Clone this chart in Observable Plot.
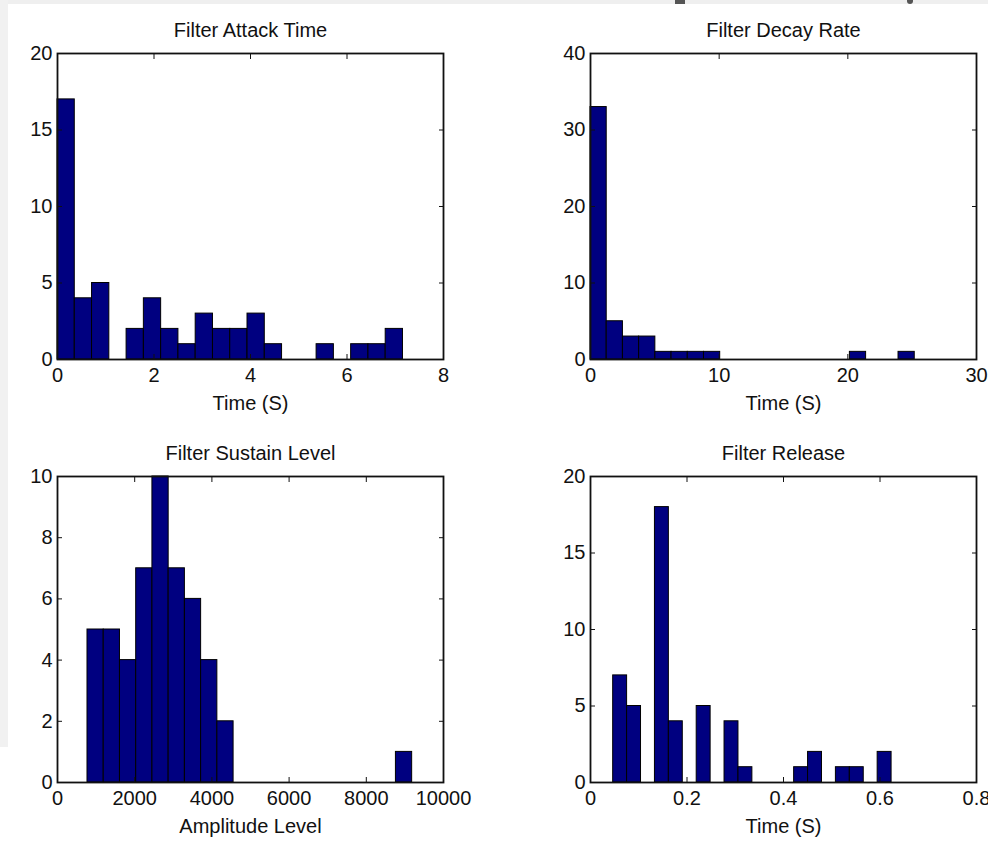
<!DOCTYPE html>
<html>
<head>
<meta charset="utf-8">
<script src="https://cdn.jsdelivr.net/npm/d3@7"></script>
<script src="https://cdn.jsdelivr.net/npm/@observablehq/plot@0.6"></script>
<style>
  body { margin: 0; background: #ffffff; }
  #page { position: relative; width: 988px; height: 846px; overflow: hidden; background: #ffffff; }
  .panel { position: absolute; width: 494px; height: 423px; }
  .strip-top { position: absolute; left: 0; top: 0; width: 988px; height: 4px; background: #efefef; }
  .strip-left { position: absolute; left: 0; top: 0; width: 8px; height: 747px; background: #f1f1f1; }
  .bit { position: absolute; top: 0; height: 4px; background: #555; }
</style>
</head>
<body>
<div id="page">
  <div class="strip-top"></div>
  <div class="strip-left"></div>
  <div class="bit" style="left:675px;width:10px;"></div>
  <div class="bit" style="left:907px;width:6px;border-radius:0 0 3px 3px;"></div>
  <div class="panel" id="p1" style="left:0;top:0;"></div>
  <div class="panel" id="p2" style="left:494px;top:0;"></div>
  <div class="panel" id="p3" style="left:0;top:423px;"></div>
  <div class="panel" id="p4" style="left:494px;top:423px;"></div>
</div>
<script>
// ---- Data (20-bin histograms) ----
const titles = ["Filter Attack Time", "Filter Decay Rate", "Filter Sustain Level", "Filter Release"];
const xLabels = ["Time (S)", "Time (S)", "Amplitude Level", "Time (S)"];

const attackCounts  = [17, 4, 5, 0, 2, 4, 2, 1, 3, 2, 2, 3, 1, 0, 0, 1, 0, 1, 1, 2];
const attackRange   = [0, 7.16];
const decayCounts   = [33, 5, 3, 3, 1, 1, 1, 1, 0, 0, 0, 0, 0, 0, 0, 0, 1, 0, 0, 1];
const decayRange    = [0, 25.2];
const sustainCounts = [5, 5, 4, 7, 10, 7, 6, 4, 2, 0, 0, 0, 0, 0, 0, 0, 0, 0, 0, 1];
const sustainRange  = [777, 9188];
const releaseCounts = [7, 5, 0, 18, 4, 0, 5, 0, 4, 1, 0, 0, 0, 1, 2, 0, 1, 1, 0, 2];
const releaseRange  = [0.047, 0.624];

// tick labels
const attackXTicks  = [0, 2, 4, 6, 8];
const attackYTicks  = [0, 5, 10, 15, 20];
const decayXTicks   = [0, 10, 20, 30];
const decayYTicks   = [0, 10, 20, 30, 40];
const sustainXTicks = [0, 2000, 4000, 6000, 8000, 10000];
const sustainYTicks = [0, 2, 4, 6, 8, 10];
const releaseXTicks = [0, 0.2, 0.4, 0.6, 0.8];
const releaseYTicks = [0, 5, 10, 15, 20];

const FONT = "'Liberation Sans', Arial, Helvetica, sans-serif";
const FS = 20;
const BAR_FILL = "#000080";

function hist({counts, range, xTicks, yTicks, title, xLabel, marginLeft, marginRight}) {
  const n = counts.length;
  const w = (range[1] - range[0]) / n;
  const bins = counts
    .map((c, i) => ({lo: range[0] + i * w, hi: range[0] + (i + 1) * w, count: c}))
    .filter(d => d.count > 0);
  const fmt = d => String(d);
  return Plot.plot({
    width: 494,
    height: 423,
    marginTop: 53,
    marginBottom: 64,
    marginLeft,
    marginRight,
    style: {fontFamily: FONT, fontSize: FS + "px", color: "#111", background: "transparent", overflow: "visible"},
    x: {domain: [xTicks[0], xTicks[xTicks.length - 1]], label: null},
    y: {domain: [yTicks[0], yTicks[yTicks.length - 1]], label: null},
    marks: [
      Plot.rectY(bins, {x1: "lo", x2: "hi", y: "count", fill: BAR_FILL, stroke: "#000", strokeWidth: 1}),
      Plot.frame({stroke: "#111", strokeWidth: 1.8}),
      // tick labels
      Plot.axisX(xTicks, {anchor: "bottom", tickSize: 0, tickPadding: 8, tickFormat: fmt, label: null}),
      Plot.axisY(yTicks, {anchor: "left", tickSize: 0, tickPadding: 5, tickFormat: fmt, label: null}),
      // inward ticks on all four sides
      Plot.axisX(xTicks, {anchor: "bottom", tickSize: 5, dy: -5, fill: "none", label: null}),
      Plot.axisX(xTicks, {anchor: "top", tickSize: 5, dy: 5, fill: "none", label: null}),
      Plot.axisY(yTicks, {anchor: "left", tickSize: 5, dx: 5, fill: "none", label: null}),
      Plot.axisY(yTicks, {anchor: "right", tickSize: 5, dx: -5, fill: "none", label: null}),
      // title and x label
      Plot.text([title], {text: d => d, frameAnchor: "top", dy: -23, lineAnchor: "middle", fontSize: FS, fill: "#111"}),
      Plot.text([xLabel], {text: d => d, frameAnchor: "bottom", dy: 44, lineAnchor: "middle", fontSize: FS, fill: "#111"})
    ]
  });
}

document.getElementById("p1").append(hist({
  counts: attackCounts, range: attackRange, xTicks: attackXTicks, yTicks: attackYTicks,
  title: titles[0], xLabel: xLabels[0], marginLeft: 57, marginRight: 51
}));
document.getElementById("p2").append(hist({
  counts: decayCounts, range: decayRange, xTicks: decayXTicks, yTicks: decayYTicks,
  title: titles[1], xLabel: xLabels[1], marginLeft: 96, marginRight: 12
}));
document.getElementById("p3").append(hist({
  counts: sustainCounts, range: sustainRange, xTicks: sustainXTicks, yTicks: sustainYTicks,
  title: titles[2], xLabel: xLabels[2], marginLeft: 57, marginRight: 51
}));
document.getElementById("p4").append(hist({
  counts: releaseCounts, range: releaseRange, xTicks: releaseXTicks, yTicks: releaseYTicks,
  title: titles[3], xLabel: xLabels[3], marginLeft: 96, marginRight: 12
}));
</script>
</body>
</html>
